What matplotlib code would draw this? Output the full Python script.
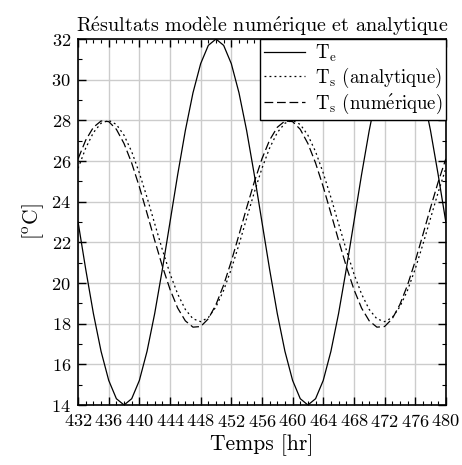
import matplotlib
matplotlib.use("Agg")
import matplotlib.pyplot as plt
from matplotlib.ticker import MultipleLocator

# Heures (432 -> 480)
temps = list(range(432, 481))

# Temperature exterieure T_e
te_cycle = [23.0, 20.67, 18.5, 16.64, 15.21, 14.31, 14.0, 14.31, 15.21, 16.64, 18.5, 20.67,
            23.0, 25.33, 27.5, 29.36, 30.79, 31.69, 32.0, 31.69, 30.79, 29.36, 27.5, 25.33]
te = te_cycle + te_cycle + [23.0]

# T_s analytique
ts_ana_cycle = [25.64, 26.64, 27.40, 27.86, 28.00, 27.80, 27.27, 26.46, 25.41, 24.21, 22.92, 21.64,
                20.46, 19.46, 18.70, 18.24, 18.10, 18.30, 18.83, 19.64, 20.69, 21.89, 23.18, 24.46]
ts_ana = ts_ana_cycle + ts_ana_cycle + [25.64]

# T_s numerique
ts_num_cycle = [26.11, 27.03, 27.66, 27.97, 27.94, 27.56, 26.86, 25.90, 24.73, 23.43, 22.10, 20.83,
                19.69, 18.77, 18.14, 17.83, 17.86, 18.24, 18.94, 19.90, 21.07, 22.37, 23.70, 24.97]
ts_num = ts_num_cycle + ts_num_cycle + [26.11]

plt.rcParams["font.family"] = ["cmr10", "DejaVu Serif"]
plt.rcParams["mathtext.fontset"] = "cm"
plt.rcParams["axes.formatter.use_mathtext"] = True

fig = plt.figure(figsize=(4.62, 4.65), dpi=100)
ax = fig.add_axes([0.169, 0.129, 0.796, 0.787])

ax.plot(temps, te, color="black", lw=0.9, label=r"T$_\mathrm{e}$")
ax.plot(temps, ts_ana, color="black", lw=0.9, ls=(0, (1.5, 2.5)), label=r"T$_\mathrm{s}$ (analytique)")
ax.plot(temps, ts_num, color="black", lw=0.9, ls=(0, (7, 3)),
        label=r"T$_\mathrm{s}$ (num$\mathrm{\acute{e}}$rique)")

ax.set_xlim(432, 480)
ax.set_ylim(14, 32)
ax.xaxis.set_major_locator(MultipleLocator(4))
ax.xaxis.set_minor_locator(MultipleLocator(1))
ax.yaxis.set_major_locator(MultipleLocator(2))
ax.yaxis.set_minor_locator(MultipleLocator(1))
ax.tick_params(which="both", direction="in", top=True, right=True, labelsize=13.2)
ax.tick_params(which="major", length=6, width=1)
ax.tick_params(which="minor", length=3, width=0.8)
ax.tick_params(axis="x", pad=6)
ax.tick_params(axis="y", pad=5)
for s in ax.spines.values():
    s.set_linewidth(1.2)
ax.grid(True, which="major", color="#cccccc", lw=1)
ax.set_axisbelow(True)

ax.set_xlabel("Temps [hr]", fontsize=15.5, labelpad=3)
ax.set_ylabel(r"[$^\mathrm{o}$C]", fontsize=15.5)
ax.set_title(r"R$\mathrm{\acute{e}}$sultats mod$\mathrm{\grave{e}}$le num$\mathrm{\acute{e}}$rique et analytique",
             fontsize=14.5, pad=5)

leg = ax.legend(loc="upper right", fontsize=13.5, fancybox=False, framealpha=1,
                edgecolor="black", borderaxespad=0, handlelength=2.2,
                borderpad=0.2, labelspacing=0.1, handletextpad=0.5)
leg.get_frame().set_linewidth(1.0)

fig.savefig("out.png", dpi=100)
